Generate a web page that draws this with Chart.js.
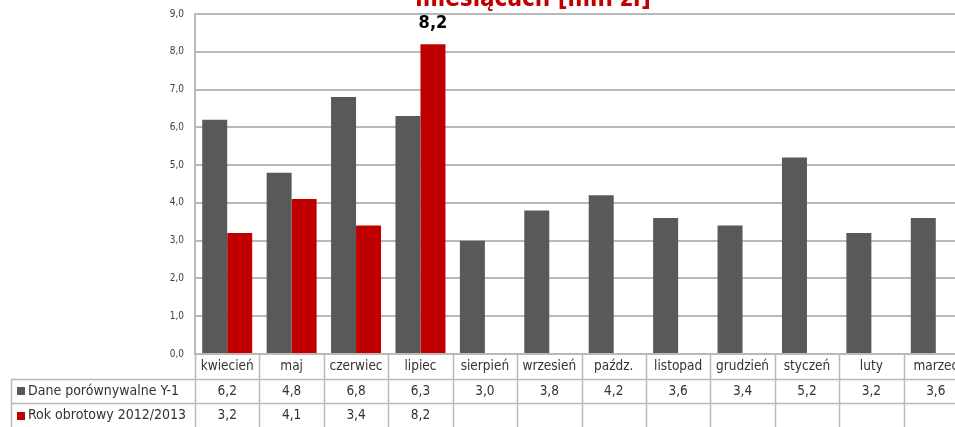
<!DOCTYPE html>
<html>
<head>
<meta charset="utf-8">
<script src="https://cdn.jsdelivr.net/npm/chart.js@4.4.1/dist/chart.umd.min.js"></script>
<style>
  html, body { margin: 0; padding: 0; background: #fff; overflow: hidden; }
  #wrap { position: relative; width: 968px; height: 427px; }
</style>
</head>
<body>
<div id="wrap"><canvas id="c" width="968" height="427"></canvas></div>
<script>
// Monthly revenue, fiscal year April–March
const months = ['kwiecień', 'maj', 'czerwiec', 'lipiec', 'sierpień', 'wrzesień',
                'paźdz.', 'listopad', 'grudzień', 'styczeń', 'luty', 'marzec'];
const seriesNames = ['Dane porównywalne Y-1', 'Rok obrotowy 2012/2013'];
const prevYear = [6.2, 4.8, 6.8, 6.3, 3.0, 3.8, 4.2, 3.6, 3.4, 5.2, 3.2, 3.6];
const currentYear = [3.2, 4.1, 3.4, 8.2, null, null, null, null, null, null, null, null];
const yTicks = [0, 1, 2, 3, 4, 5, 6, 7, 8, 9];
const titleLines = ['Przychody w poszczególnych', 'miesiącach [mln zł]'];

const GRAY = '#595959';
const RED = '#C00000';
const LINE = '#b9b9b9';
const TXT = '#333333';
const FONT = "'DejaVu Sans Condensed', 'DejaVu Sans', sans-serif";

const fmt = v => (v === null || v === undefined) ? '' : v.toFixed(1).replace('.', ',');

// Draws the chart title, the value label over the peak bar and the data table
const tablePlugin = {
  id: 'dataTable',
  afterDraw(chart) {
    const ctx = chart.ctx;
    const area = chart.chartArea;
    const xs = chart.scales.x;
    const n = months.length;
    const cw = (area.right - area.left) / n;
    const legendLeft = 11.5;
    const rowTop = [area.bottom, area.bottom + 24.5, area.bottom + 49];
    const rowH = [24.5, 24.5, 24.5];

    ctx.save();
    // table grid
    ctx.strokeStyle = LINE;
    ctx.lineWidth = 1.5;
    ctx.beginPath();
    for (let i = 0; i <= n; i++) {
      const x = Math.round(area.left + i * cw) + 0.5;
      ctx.moveTo(x, area.bottom);
      ctx.lineTo(x, chart.height);
    }
    ctx.moveTo(legendLeft, Math.round(rowTop[1]) + 0.5);
    ctx.lineTo(legendLeft, chart.height);
    ctx.moveTo(legendLeft, Math.round(rowTop[1]) + 0.5);
    ctx.lineTo(area.right, Math.round(rowTop[1]) + 0.5);
    ctx.moveTo(legendLeft, Math.round(rowTop[2]) + 0.5);
    ctx.lineTo(area.right, Math.round(rowTop[2]) + 0.5);
    ctx.stroke();

    // table text
    ctx.fillStyle = TXT;
    ctx.font = '13.5px ' + FONT;
    ctx.textAlign = 'center';
    ctx.textBaseline = 'middle';
    const rows = [months, prevYear.map(fmt), currentYear.map(fmt)];
    rows.forEach((row, r) => {
      const cy = rowTop[r] + rowH[r] / 2 + 0.5;
      row.forEach((t, i) => {
        ctx.fillText(t, xs.getPixelForValue(i), cy);
      });
    });

    // legend keys
    const colors = [GRAY, RED];
    ctx.textAlign = 'left';
    ctx.font = '14px ' + FONT;
    seriesNames.forEach((name, r) => {
      const cy = rowTop[r + 1] + rowH[r + 1] / 2 + 0.5;
      ctx.fillStyle = colors[r];
      ctx.fillRect(17, Math.round(cy - 4), 8, 8);
      ctx.fillStyle = TXT;
      ctx.fillText(name, 28, cy);
    });

    // value label over the current-year July bar
    const meta = chart.getDatasetMeta(1);
    const peak = meta.data[3];
    ctx.fillStyle = '#000';
    ctx.font = 'bold 18px ' + FONT;
    ctx.textAlign = 'center';
    ctx.textBaseline = 'alphabetic';
    ctx.fillText(fmt(currentYear[3]), peak.x, peak.y - 16);

    // title (second line sits at the top edge)
    ctx.fillStyle = RED;
    ctx.font = 'bold 24px ' + FONT;
    ctx.fillText(titleLines[0], 533, -22);
    ctx.fillText(titleLines[1], 533, 6);
    ctx.restore();
  }
};

new Chart(document.getElementById('c'), {
  type: 'bar',
  data: {
    labels: months,
    datasets: [
      { label: seriesNames[0], data: prevYear, backgroundColor: GRAY,
        categoryPercentage: 0.776, barPercentage: 1.0 },
      { label: seriesNames[1], data: currentYear, backgroundColor: RED,
        categoryPercentage: 0.776, barPercentage: 1.0 }
    ]
  },
  options: {
    responsive: false,
    animation: false,
    devicePixelRatio: 1,
    layout: { autoPadding: false, padding: { top: 14, bottom: 73, left: 0, right: 0 } },
    plugins: { legend: { display: false }, title: { display: false }, tooltip: { enabled: false } },
    scales: {
      x: {
        ticks: { display: false },
        grid: { display: false, drawTicks: false },
        border: { display: false },
        afterFit: s => { s.height = 0; }
      },
      y: {
        min: 0,
        max: 9,
        afterBuildTicks: s => { s.ticks = yTicks.map(v => ({ value: v })); },
        ticks: {
          callback: v => fmt(v),
          font: { family: FONT, size: 10 },
          color: '#404040',
          padding: 11
        },
        grid: { color: LINE, lineWidth: 2, drawTicks: false },
        border: { color: LINE, width: 2 },
        afterFit: s => {
          s.width = 195;
          s.paddingTop = 0;
          s.paddingBottom = 0;
        }
      }
    }
  },
  plugins: [tablePlugin]
});
</script>
</body>
</html>
